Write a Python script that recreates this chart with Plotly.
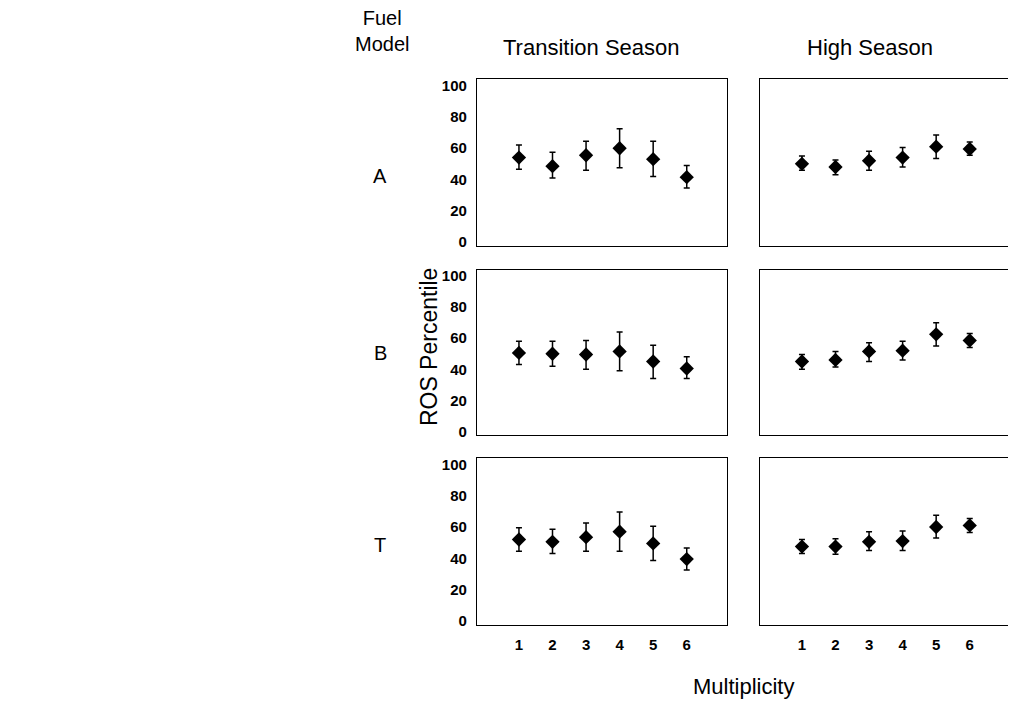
import plotly.graph_objects as go

multiplicity = [1, 2, 3, 4, 5, 6]
x_tick_labels = ["1", "2", "3", "4", "5", "6"]
y_tick_values = [0, 20, 40, 60, 80, 100]

fuel_models = ["A", "B", "T"]
seasons = ["Transition Season", "High Season"]

trans_A_mean = [54, 48.5, 55.5, 60, 53, 41.5]
trans_A_hi = [62, 57.5, 64.5, 72.5, 64.5, 49]
trans_A_lo = [46.5, 41, 46, 47.5, 42, 34.5]
high_A_mean = [50, 48, 52, 54, 61, 59.5]
high_A_hi = [55, 52.5, 58, 60.5, 68.5, 64]
high_A_lo = [46, 43, 46, 48, 53.5, 55.5]

trans_B_mean = [50.5, 50, 49.5, 51.5, 45, 40.5]
trans_B_hi = [58, 58, 58.5, 64, 55.5, 48]
trans_B_lo = [43, 42, 40, 39, 34, 34]
high_B_mean = [45, 46, 51.5, 52, 62.5, 58.5]
high_B_hi = [49.5, 51.5, 57, 58, 70, 63]
high_B_lo = [40, 41.5, 45, 46, 55, 54]

trans_T_mean = [52, 50.5, 53.5, 57, 49.5, 39.5]
trans_T_hi = [59.5, 58.5, 62.5, 69.5, 60.5, 46.5]
trans_T_lo = [44.5, 43, 44.5, 44.5, 38.5, 32.5]
high_T_mean = [47.5, 47.5, 50.5, 51, 60, 61]
high_T_hi = [52, 52.5, 57, 57.5, 67.5, 65.5]
high_T_lo = [43, 42.5, 45, 45, 53, 56.5]

panels = [
    (trans_A_mean, trans_A_hi, trans_A_lo),
    (high_A_mean, high_A_hi, high_A_lo),
    (trans_B_mean, trans_B_hi, trans_B_lo),
    (high_B_mean, high_B_hi, high_B_lo),
    (trans_T_mean, trans_T_hi, trans_T_lo),
    (high_T_mean, high_T_hi, high_T_lo),
]

W, H = 1016, 707
OFF = 8  # page body margin
FONT = "Liberation Sans, Arial, Helvetica, sans-serif"

def px_x(p):
    return (p - OFF) / W

def px_y(p):
    return 1 - (p - OFF) / H

col_dom = [(px_x(477), px_x(727)), (px_x(760), px_x(1010))]
row_dom = [(px_y(246), px_y(78)), (px_y(437), px_y(270)), (px_y(628), px_y(460))]

fig = go.Figure()
layout = {}
idx = 0
for r in range(3):
    for c in range(2):
        idx += 1
        mean, hi, lo = panels[idx - 1]
        sfx = "" if idx == 1 else str(idx)
        fig.add_trace(go.Scatter(
            x=multiplicity, y=mean, mode="markers",
            marker=dict(symbol="diamond", size=11, color="black"),
            error_y=dict(type="data", symmetric=False,
                         array=[h - m for h, m in zip(hi, mean)],
                         arrayminus=[m - l for m, l in zip(mean, lo)],
                         color="black", thickness=1.5, width=3),
            xaxis="x" + sfx, yaxis="y" + sfx, showlegend=False,
        ))
        layout["xaxis" + sfx] = dict(
            domain=col_dom[c], anchor="y" + sfx, range=[-0.25, 7.2],
            tickvals=multiplicity, ticktext=x_tick_labels,
            showticklabels=(r == 2), showgrid=False, zeroline=False,
            showline=True, mirror=True, linecolor="black", linewidth=1.2,
            ticks="", ticklabelstandoff=6,
            tickfont=dict(family=FONT, size=15, color="black", weight="bold"),
        )
        layout["yaxis" + sfx] = dict(
            domain=row_dom[r], anchor="x" + sfx, range=[-2.5, 104],
            tickvals=y_tick_values, showticklabels=(c == 0),
            showgrid=False, zeroline=False,
            showline=True, mirror=True, linecolor="black", linewidth=1.2,
            ticks="", ticklabelstandoff=6,
            tickfont=dict(family=FONT, size=15, color="black", weight="bold"),
        )

fig.update_layout(**layout)

annotations = [
    dict(text="Fuel<br>Model", x=px_x(382), y=px_y(29), size=20),
    dict(text=seasons[0], x=px_x(591), y=px_y(46), size=22),
    dict(text=seasons[1], x=px_x(870), y=px_y(46), size=22),
    dict(text=fuel_models[0], x=px_x(380), y=px_y(175), size=20),
    dict(text=fuel_models[1], x=px_x(380), y=px_y(354), size=20),
    dict(text=fuel_models[2], x=px_x(380), y=px_y(548), size=20),
    dict(text="Multiplicity", x=px_x(743), y=px_y(690), size=22),
]
for a in annotations:
    fig.add_annotation(text=a["text"], x=a["x"], y=a["y"], xref="paper", yref="paper",
                       showarrow=False, xanchor="center", yanchor="middle",
                       font=dict(family=FONT, size=a["size"], color="black"))
fig.add_annotation(text="ROS Percentile", x=px_x(429), y=px_y(348), xref="paper", yref="paper",
                   showarrow=False, textangle=-90, xanchor="center", yanchor="middle",
                   font=dict(family=FONT, size=23, color="black"))

fig.update_layout(
    width=W, height=H, margin=dict(l=0, r=0, t=0, b=0),
    paper_bgcolor="white", plot_bgcolor="white",
)

fig.write_html("out.html")
